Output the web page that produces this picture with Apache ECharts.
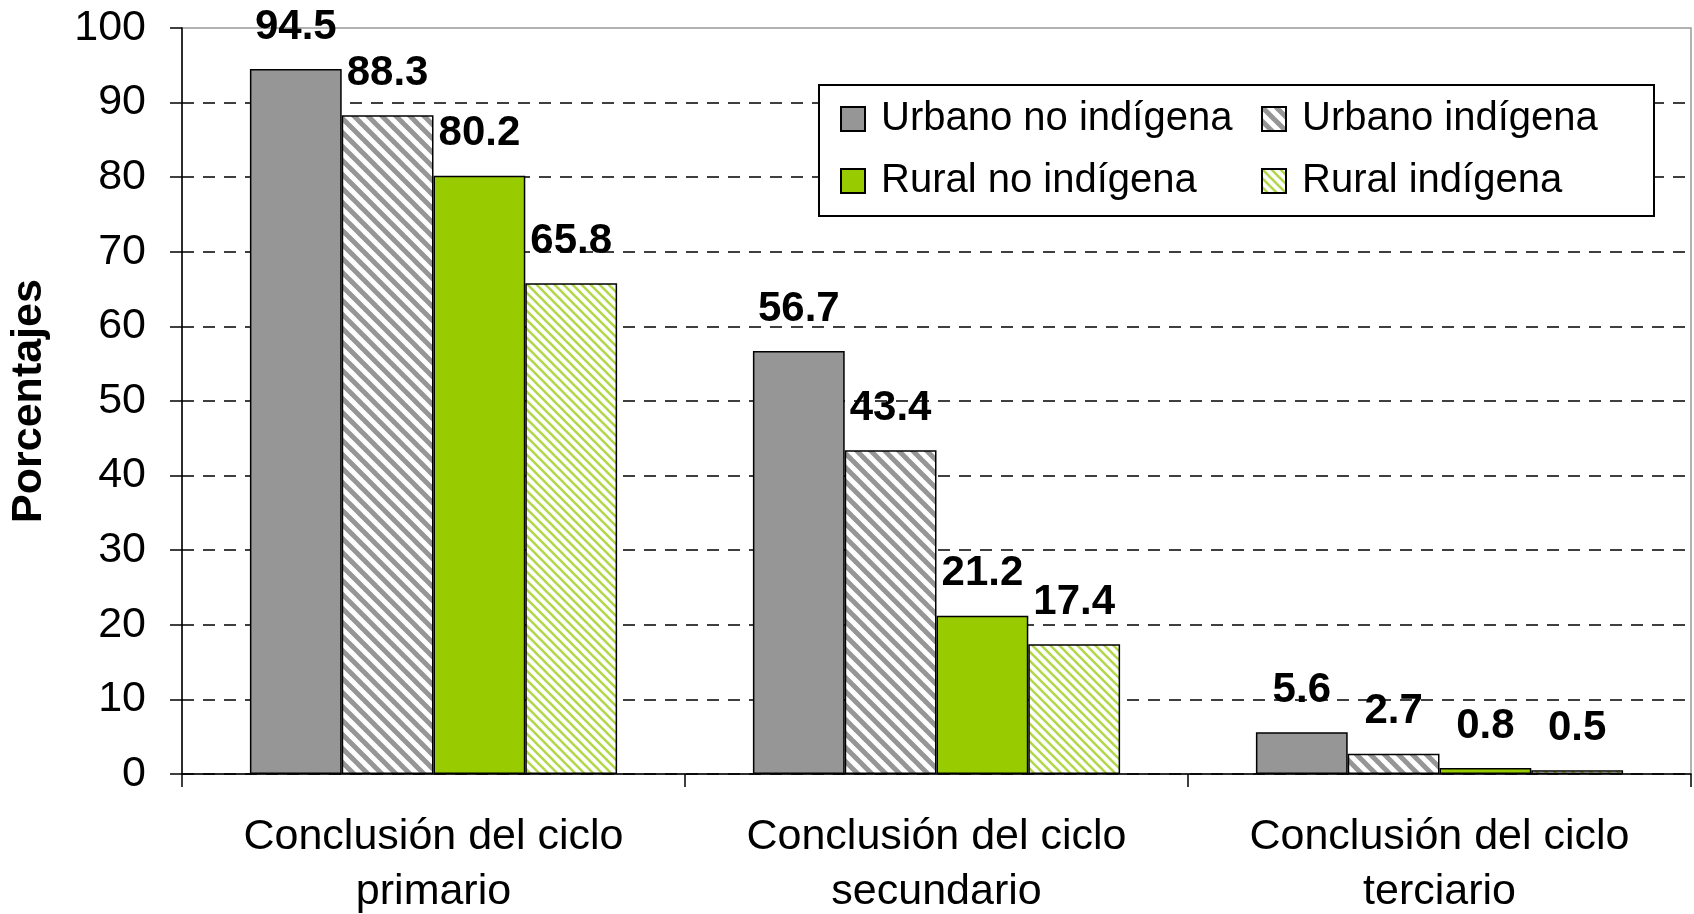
<!DOCTYPE html>
<html>
<head>
<meta charset="utf-8">
<title>Conclusión de ciclos</title>
<script src="https://cdn.jsdelivr.net/npm/echarts@6/dist/echarts.min.js"></script>
<style>
  html, body { margin: 0; padding: 0; background: #fff; }
  #chart { width: 1694px; height: 914px; }
</style>
</head>
<body>
<div id="chart"></div>
<script>
// 类目
const categories = [
  'Conclusión del ciclo\nprimario',
  'Conclusión del ciclo\nsecundario',
  'Conclusión del ciclo\nterciario'
];
// 各组数据
const urbanoNoIndigena = [94.5, 56.7, 5.6];
const urbanoIndigena = [88.3, 43.4, 2.7];
const ruralNoIndigena = [80.2, 21.2, 0.8];
const ruralIndigena = [65.8, 17.4, 0.5];
// y轴
const yMin = 0;
const yMax = 100;
const yStep = 10;

const FONT = '"Liberation Sans", Arial, sans-serif';

/* 斜线填充 */
function stripes(size, width, color) {
  const c = document.createElement('canvas');
  c.width = size;
  c.height = size;
  const ctx = c.getContext('2d');
  ctx.fillStyle = '#fff';
  ctx.fillRect(0, 0, size, size);
  ctx.strokeStyle = color;
  ctx.lineWidth = width;
  for (let k = -1; k <= 1; k++) {
    ctx.beginPath();
    ctx.moveTo(-2, -2 + k * size);
    ctx.lineTo(size + 2, size + 2 + k * size);
    ctx.stroke();
  }
  return { image: c, repeat: 'repeat' };
}

const grayStripes = stripes(14, 5, '#969696');
const greenStripes = stripes(9, 2.6, '#b2d84a');

function barSeries(name, data, color) {
  return {
    name: name,
    type: 'bar',
    data: data,
    barGap: '0%',
    barCategoryGap: '27%',
    itemStyle: { color: color, borderColor: '#000', borderWidth: 1.5 },
    label: {
      show: true,
      position: 'top',
      distance: 21,
      color: '#000',
      fontFamily: FONT,
      fontWeight: 'bold',
      fontSize: 42
    }
  };
}

const legendText = { color: '#000', fontFamily: FONT, fontSize: 40, lineHeight: 40, padding: [0, 0, 0, 11] };

const chart = echarts.init(document.getElementById('chart'), null, { renderer: 'canvas' });
chart.setOption({
  animation: false,
  backgroundColor: '#fff',
  grid: {
    left: 182, right: 3, top: 28, bottom: 140,
    outerBoundsMode: 'none',
    containLabel: false,
    show: true, borderColor: '#999', borderWidth: 1.5
  },
  // 图例边框
  graphic: [{
    type: 'rect',
    left: 818, top: 84, z: 3,
    shape: { width: 835, height: 131 },
    style: { fill: '#fff', stroke: '#000', lineWidth: 2 }
  }],
  legend: [
    {
      orient: 'vertical', left: 840, top: 99, padding: 0, itemGap: 22,
      itemWidth: 24, itemHeight: 24, z: 5, icon: 'rect',
      data: ['Urbano no indígena', 'Rural no indígena'],
      textStyle: legendText
    },
    {
      orient: 'vertical', left: 1261, top: 99, padding: 0, itemGap: 22,
      itemWidth: 24, itemHeight: 24, z: 5, icon: 'rect',
      data: ['Urbano indígena', 'Rural indígena'],
      textStyle: legendText
    }
  ],
  xAxis: {
    type: 'category',
    data: categories,
    axisLine: { lineStyle: { color: '#000', width: 1.5 } },
    axisTick: { show: true, length: 13, lineStyle: { color: '#000', width: 1.5 } },
    axisLabel: { color: '#000', fontFamily: FONT, fontSize: 43, lineHeight: 55, margin: 36 }
  },
  yAxis: {
    type: 'value',
    min: yMin, max: yMax, interval: yStep,
    name: 'Porcentajes',
    nameLocation: 'middle',
    nameRotate: 90,
    nameGap: 131,
    nameTextStyle: { color: '#000', fontFamily: FONT, fontWeight: 'bold', fontSize: 43 },
    axisLine: { show: true, lineStyle: { color: '#000', width: 1.5 } },
    axisTick: { show: true, length: 12, lineStyle: { color: '#000', width: 1.5 } },
    axisLabel: { color: '#000', fontFamily: FONT, fontSize: 43, margin: 36 },
    splitLine: {
      show: true,
      showMaxLine: false,
      lineStyle: { color: '#000', width: 1.5, type: [12, 9] }
    }
  },
  series: [
    barSeries('Urbano no indígena', urbanoNoIndigena, '#969696'),
    barSeries('Urbano indígena', urbanoIndigena, grayStripes),
    barSeries('Rural no indígena', ruralNoIndigena, '#99cc00'),
    barSeries('Rural indígena', ruralIndigena, greenStripes)
  ]
});
</script>
</body>
</html>
